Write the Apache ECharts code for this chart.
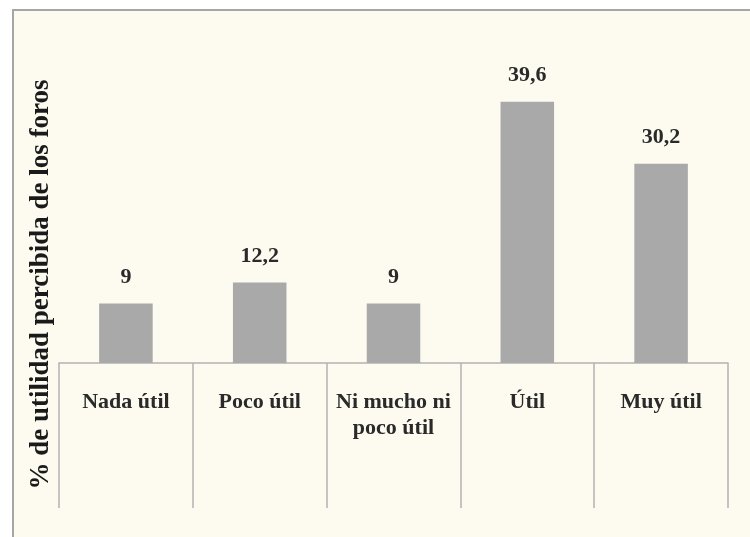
<!DOCTYPE html>
<html>
<head>
<meta charset="utf-8">
<script src="https://cdn.jsdelivr.net/npm/echarts@6/dist/echarts.min.js"></script>
<style>
html,body{margin:0;padding:0;background:#ffffff;}
#chart{width:750px;height:537px;}
</style>
</head>
<body>
<div id="chart"></div>
<script>
const categories = ["Nada útil", "Poco útil", "Ni mucho ni\npoco útil", "Útil", "Muy útil"];
const values = [9, 12.2, 9, 39.6, 30.2];
const valueLabels = ["9", "12,2", "9", "39,6", "30,2"];
const yTitle = "% de utilidad percibida de los foros";

const serif = 'Liberation Serif';
const chart = echarts.init(document.getElementById('chart'));
chart.setOption({
  backgroundColor: '#ffffff',
  animation: false,
  graphic: [
    {
      type: 'rect', z: -10, silent: true,
      shape: { x: 13, y: 10, width: 900, height: 700 },
      style: { fill: '#fdfaf0', stroke: '#a6a6a6', lineWidth: 2 }
    }
  ],
  grid: { left: 59, right: 22, top: 66, bottom: 174 },
  xAxis: {
    type: 'category',
    data: categories,
    axisLine: { lineStyle: { color: '#b3b3b3', width: 1.5 } },
    axisTick: { show: true, length: 145, lineStyle: { color: '#b3b3b3', width: 1.5 } },
    axisLabel: {
      margin: 26, color: '#2a2a2a', fontFamily: serif, fontWeight: 'bold',
      fontSize: 22, lineHeight: 26, interval: 0
    }
  },
  yAxis: {
    type: 'value', min: 0, max: 45,
    name: yTitle, nameLocation: 'middle', nameGap: 4,
    nameTextStyle: {
      color: '#1a1a1a', fontFamily: serif, fontWeight: 'bold', fontSize: 27,
      padding: [0, 140, 0, 0]
    },
    axisLine: { show: false }, axisTick: { show: false },
    axisLabel: { show: false }, splitLine: { show: false }
  },
  series: [{
    type: 'bar',
    data: values,
    barWidth: '40%',
    itemStyle: { color: '#a9a9a9' },
    label: {
      show: true, position: 'top', distance: 15,
      color: '#2a2a2a', fontFamily: serif, fontWeight: 'bold', fontSize: 22,
      formatter: p => valueLabels[p.dataIndex]
    }
  }]
});
</script>
</body>
</html>
